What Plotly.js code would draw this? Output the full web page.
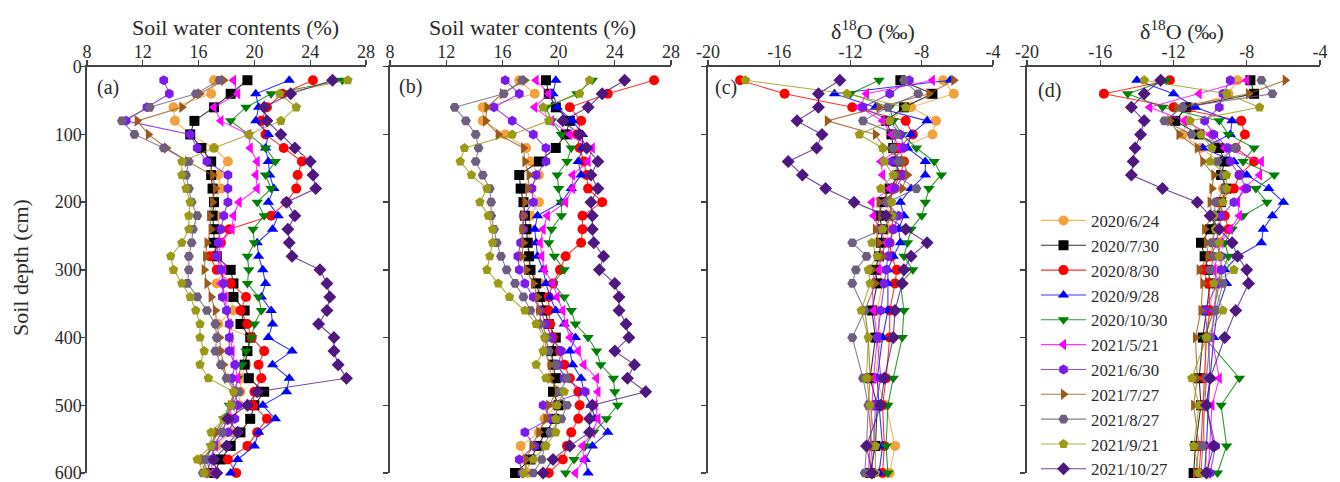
<!DOCTYPE html>
<html>
<head>
<meta charset="utf-8">
<script src="https://cdn.plot.ly/plotly-3.0.1.min.js"></script>
<style>
  html, body { margin: 0; padding: 0; background: #ffffff; }
  #chart { width: 1340px; height: 482px; }
</style>
</head>
<body>
<div id="chart"></div>
<script>
// Sampling dates (one profile per date)
const dates = ['2020/6/24', '2020/7/30', '2020/8/30', '2020/9/28', '2020/10/30',
               '2021/5/21', '2021/6/30', '2021/7/27', '2021/8/27', '2021/9/21', '2021/10/27'];

// Soil depths (cm): water content profiles and isotope profiles
const depthSwc = [20, 40, 60, 80, 100, 120, 140, 160, 180, 200, 220, 240, 260, 280, 300,
                  320, 340, 360, 380, 400, 420, 440, 460, 480, 500, 520, 540, 560, 580, 600];
const depthIso = [20, 40, 60, 80, 100, 120, 140, 160, 180, 200, 220, 240, 260, 280, 300, 320,
                  360, 400, 460, 500, 560, 600];

// (a) soil water content (%)
const a0624 = [17.1,16.9,14.2,14.3,15.4,17.1,18.1,17.4,17.6,17.1,17.3,17.6,17.3,17.3,17.8,17.3,18.3,18.5,17.4,19.8,19.5,19.4,19.0,19.0,18.9,18.5,18.3,17.3,16.1,16.6];
const a0730 = [19.5,18.3,17.1,15.7,15.4,16.2,16.9,16.9,17.0,17.1,17.0,17.1,17.1,17.3,18.3,18.5,18.5,19.3,19.0,19.7,19.5,19.3,19.6,20.7,20.0,19.7,19.0,18.3,17.6,17.1];
const a0830 = [24.2,22.0,20.9,20.5,20.8,22.1,23.4,23.1,23.0,22.3,21.2,18.2,17.6,16.8,17.3,18.3,19.4,19.0,19.5,19.8,20.7,20.3,20.5,20.0,19.9,20.9,20.2,19.5,18.1,18.7];
const a0928 = [22.5,20.1,20.3,20.1,21.0,20.8,21.0,21.1,21.4,21.0,21.7,21.3,20.2,20.3,20.6,20.8,20.5,21.2,21.3,21.0,22.7,21.3,22.5,22.3,20.6,21.5,20.3,20.0,18.8,18.3];
const a1030 = [26.3,21.2,19.4,18.3,19.6,20.8,21.5,20.8,21.2,20.2,20.7,19.9,20.0,19.5,19.6,19.5,20.3,20.5,20.0,19.8,19.4,19.1,18.8,18.6,18.2,17.8,17.2,16.9,16.6,16.8];
const a0521 = [18.5,18.8,17.1,17.6,19.6,19.7,20.2,20.1,20.2,18.9,18.5,18.4,17.6,17.4,17.8,17.6,17.9,18.0,18.2,18.3,18.4,18.6,18.8,18.6,18.4,18.2,17.6,17.2,16.9,17.0];
const a0630 = [13.5,13.9,12.3,10.8,15.4,15.9,16.6,18.1,18.1,18.1,17.8,17.6,17.4,17.3,17.6,17.8,17.7,18.0,18.2,18.2,18.2,18.6,18.4,18.6,18.8,18.6,18.1,17.1,16.9,16.6];
const a0727 = [17.8,16.1,14.8,11.6,12.4,13.7,15.2,17.0,17.2,17.0,16.8,16.9,16.6,16.5,16.4,16.6,16.9,17.2,17.3,17.5,17.6,17.8,18.0,18.6,18.3,18.0,17.3,17.0,16.3,16.7];
const a0827 = [17.5,15.8,12.5,10.5,11.4,13.5,15.3,15.1,15.3,15.5,15.9,15.6,15.5,15.3,15.3,15.2,15.9,16.6,17.2,17.3,17.2,17.6,18.0,18.9,18.4,18.0,17.7,17.0,16.5,16.3];
const a0921 = [26.7,21.8,23.0,21.9,19.6,17.1,14.8,14.8,15.1,15.4,15.3,15.3,14.8,14.0,14.2,14.8,15.4,15.8,16.1,16.1,16.4,16.1,16.7,18.5,18.3,17.8,16.9,16.9,15.9,16.4];
const a1027 = [25.6,22.6,20.7,20.9,21.9,22.9,24.0,24.2,24.4,22.3,22.9,22.4,22.5,22.7,24.7,25.2,25.4,25.2,24.6,25.7,25.7,26.0,26.6,20.2,19.5,18.1,18.8,18.0,17.1,17.3];

// (b) soil water content (%)
const b0624 = [17.2,18.3,14.6,14.6,16.2,17.7,18.0,18.6,18.0,18.6,18.0,17.9,17.9,17.9,17.9,18.7,18.6,19.1,19.2,19.5,19.6,19.5,19.6,19.8,19.8,19.0,18.6,17.3,17.6,17.8];
const b0730 = [19.1,19.3,19.8,20.8,20.5,19.8,18.6,17.2,17.3,17.5,17.6,17.7,17.8,17.9,18.0,18.4,18.7,19.0,19.3,19.8,19.5,19.6,19.8,19.6,20.0,19.7,19.1,18.5,18.0,16.9];
const b0830 = [26.8,23.5,20.8,21.6,21.3,21.5,21.8,22.0,22.1,23.1,21.7,21.7,21.6,20.5,20.1,19.6,19.3,19.3,19.4,19.6,20.1,20.4,20.8,21.4,21.5,21.4,20.9,20.6,20.3,19.3];
const b0928 = [19.8,19.6,19.9,21.0,21.7,21.7,21.4,21.6,20.9,20.2,18.5,18.3,18.4,18.5,18.9,19.1,19.4,19.8,20.4,21.2,20.8,21.0,21.6,21.8,22.3,22.6,23.5,22.4,21.9,22.1];
const b1030 = [22.4,21.3,19.1,19.5,20.2,20.9,20.6,19.9,20.0,20.2,20.2,19.5,19.3,19.7,20.4,19.6,20.4,20.9,21.2,22.1,22.7,23.0,23.9,24.0,24.2,23.4,22.5,21.9,21.1,20.5];
const b0521 = [18.4,19.3,18.3,19.5,20.8,22.4,22.1,21.0,21.0,20.5,19.2,18.9,18.7,18.8,19.0,19.6,19.9,20.3,20.5,20.8,21.4,21.8,22.7,22.8,22.6,22.8,22.4,21.7,21.8,21.2];
const b0630 = [16.2,17.2,15.4,16.7,18.2,19.1,19.1,18.4,18.1,18.2,17.5,17.5,17.3,17.1,17.2,17.6,18.2,18.7,19.1,19.5,20.2,20.0,20.4,21.9,18.9,19.4,17.6,18.3,17.2,17.4];
const b0727 = [17.6,16.0,14.9,14.8,15.7,17.5,17.6,17.9,17.8,17.6,17.5,17.4,17.5,17.4,17.7,18.2,18.5,18.6,18.8,19.2,19.0,19.4,19.4,19.9,19.3,19.1,18.6,18.1,17.7,17.6];
const b0827 = [17.4,16.1,12.6,13.4,14.1,14.3,14.1,14.6,15.1,15.2,15.2,15.4,15.6,15.9,16.3,16.9,17.5,18.0,18.6,19.1,19.3,19.8,20.6,20.1,20.6,20.2,19.4,19.0,18.8,18.2];
const b0921 = [22.2,21.5,18.9,19.3,16.7,13.3,13.0,13.8,14.9,14.4,15.0,15.3,15.3,15.1,14.9,15.7,16.5,17.6,18.4,19.0,18.9,18.4,19.1,20.4,19.9,19.8,19.8,19.1,18.2,17.5];
const b1027 = [24.7,23.1,22.1,20.3,21.5,22.0,22.8,22.3,22.8,22.3,22.4,22.4,22.5,23.2,22.9,24.0,24.3,24.3,24.8,25.0,24.0,25.4,24.9,26.2,22.4,22.2,22.2,20.8,19.6,18.9];

// (c) soil water δ18O (‰)
const c0624 = [-6.8,-6.2,-8.6,-7.2,-7.4,-9.2,-9.6,-9.4,-9.5,-10.0,-9.8,-9.9,-10.0,-10.3,-10.4,-10.2,-10.5,-10.3,-10.6,-10.0,-9.5,-9.8];
const c0730 = [-9.2,-7.4,-9.0,-10.0,-9.7,-9.6,-9.4,-9.3,-9.8,-10.2,-10.4,-10.2,-10.3,-10.4,-10.6,-10.5,-10.8,-10.6,-10.9,-10.5,-10.6,-10.9];
const c0830 = [-18.2,-15.7,-11.9,-8.9,-8.5,-9.3,-9.0,-9.2,-9.6,-9.8,-9.7,-9.6,-9.8,-9.7,-9.4,-9.5,-9.8,-9.8,-10.0,-10.2,-10.1,-10.2];
const c0928 = [-6.4,-12.9,-10.6,-7.7,-8.6,-8.8,-7.8,-7.8,-8.6,-9.2,-9.0,-9.3,-9.2,-9.6,-9.9,-9.9,-9.9,-10.2,-10.5,-10.4,-10.2,-10.4];
const c1030 = [-10.4,-12.0,-9.8,-9.6,-9.1,-8.3,-7.3,-6.9,-7.6,-7.8,-8.0,-8.6,-8.8,-9.0,-8.5,-9.2,-9.0,-9.1,-9.6,-9.9,-10.0,-9.9];
const c0521 = [-7.4,-11.1,-11.5,-10.2,-9.7,-9.2,-10.3,-10.2,-9.8,-10.8,-10.7,-10.4,-10.0,-10.3,-10.4,-10.8,-10.7,-10.5,-10.7,-10.8,-10.9,-11.0];
const c0630 = [-8.7,-9.8,-11.3,-9.8,-9.2,-9.0,-9.7,-9.0,-9.5,-10.0,-9.3,-9.6,-9.8,-9.9,-10.0,-10.1,-10.3,-10.5,-10.3,-10.6,-10.7,-10.8];
const c0727 = [-6.2,-7.6,-10.4,-13.3,-10.6,-10.1,-9.0,-8.8,-9.1,-10.4,-10.3,-10.6,-10.4,-10.2,-10.8,-10.6,-11.2,-11.0,-10.9,-11.0,-10.8,-10.9];
const c0827 = [-9.0,-8.2,-9.9,-11.3,-9.4,-9.6,-9.3,-9.5,-8.3,-9.9,-9.6,-10.2,-11.9,-11.1,-11.7,-11.9,-11.2,-11.9,-11.3,-11.0,-11.1,-11.2];
const c0921 = [-17.9,-12.2,-8.9,-9.8,-11.5,-10.2,-10.1,-9.6,-10.3,-9.7,-9.7,-10.2,-10.8,-10.5,-11.0,-10.9,-11.4,-11.0,-11.1,-10.9,-10.6,-10.6];
const c1027 = [-12.6,-13.8,-13.8,-15.0,-13.6,-13.9,-15.5,-14.7,-13.4,-11.8,-10.0,-8.9,-7.7,-8.6,-9.0,-9.1,-9.5,-9.6,-10.1,-10.3,-11.1,-10.8];

// (d) soil water δ18O (‰)
const d0624 = [-8.5,-9.0,-11.0,-11.3,-11.5,-10.5,-9.5,-9.2,-9.3,-9.4,-9.3,-9.8,-9.9,-10.0,-9.6,-9.8,-10.0,-10.3,-10.2,-10.4,-10.3,-10.1];
const d0730 = [-7.8,-7.6,-11.3,-11.9,-10.6,-9.5,-9.2,-9.4,-9.1,-9.4,-9.6,-10.0,-10.5,-10.3,-10.1,-10.0,-10.2,-10.4,-10.6,-10.5,-10.8,-10.9];
const d0830 = [-12.2,-15.8,-12.0,-8.3,-8.1,-8.6,-7.6,-8.4,-8.7,-9.6,-9.2,-9.0,-9.6,-10.0,-10.4,-10.1,-10.0,-10.2,-10.3,-10.4,-10.5,-10.6];
const d0928 = [-14.0,-12.0,-10.8,-8.8,-8.9,-10.4,-8.7,-8.0,-6.8,-6.0,-6.6,-7.1,-7.2,-8.5,-9.2,-9.1,-9.6,-9.8,-10.0,-10.1,-10.2,-10.3];
const d1030 = [-12.4,-14.5,-12.6,-9.5,-9.0,-7.6,-8.2,-6.5,-7.5,-6.9,-8.2,-8.8,-9.2,-9.0,-9.3,-9.5,-9.8,-10.3,-8.4,-9.4,-9.1,-9.6];
const d0521 = [-8.0,-10.6,-13.3,-11.4,-10.0,-9.2,-7.2,-7.3,-8.2,-8.5,-8.4,-8.9,-9.4,-9.6,-9.8,-9.6,-9.8,-9.9,-9.5,-9.9,-10.0,-10.1];
const d0630 = [-8.9,-9.3,-9.5,-10.3,-9.8,-9.0,-8.9,-8.4,-8.0,-8.7,-9.4,-9.5,-9.7,-9.4,-9.4,-9.6,-10.3,-10.1,-10.0,-10.2,-9.7,-10.0];
const d0727 = [-5.9,-7.9,-11.8,-12.2,-11.7,-10.7,-10.4,-9.8,-9.9,-10.0,-9.9,-10.3,-10.2,-10.1,-10.6,-10.4,-10.5,-10.8,-10.7,-10.9,-10.6,-10.8];
const d0827 = [-7.2,-6.6,-11.5,-12.5,-11.0,-8.6,-9.6,-9.3,-9.2,-9.7,-9.8,-9.7,-9.9,-9.8,-10.0,-9.3,-9.7,-10.0,-10.2,-10.3,-10.4,-10.5];
const d0921 = [-13.6,-9.1,-7.3,-11.1,-10.5,-9.9,-10.0,-9.1,-9.1,-9.3,-9.8,-9.7,-9.5,-9.5,-8.7,-9.8,-9.3,-10.2,-11.0,-10.6,-10.9,-10.6];
const d1027 = [-12.7,-13.6,-14.3,-13.6,-13.8,-14.1,-14.2,-14.3,-12.6,-10.7,-10.0,-9.5,-8.8,-8.5,-8.0,-7.9,-8.6,-9.2,-10.0,-10.2,-9.8,-10.2];

// Axis tick values
const swcTicks = [8, 12, 16, 20, 24, 28];
const isoTicks = [-20, -16, -12, -8, -4];
const depthTicks = [0, 100, 200, 300, 400, 500, 600];

// ---- styling ----
const colors = ['#F2A23C', '#000000', '#FF0000', '#0000FF', '#008000',
                '#FF00FF', '#7A1CF0', '#9A5A1C', '#6E5E80', '#9A9A14', '#4E1880'];
const symbols = ['circle', 'square', 'circle', 'triangle-up', 'triangle-down',
                 'triangle-left', 'hexagon', 'triangle-right', 'hexagon2', 'pentagon', 'diamond'];

function rgba(hex, a) {
  const n = parseInt(hex.slice(1), 16);
  return 'rgba(' + ((n >> 16) & 255) + ',' + ((n >> 8) & 255) + ',' + (n & 255) + ',' + a + ')';
}

const W = 1340, H = 482;
const px = x => x / W;
const py = y => 1 - y / H;
const plotTop = 66.7, plotBottom = 473;
const panelX = [[87, 366], [390, 671], [708, 993], [1027, 1320]];

const panels = [
  { series: [a0624, a0730, a0830, a0928, a1030, a0521, a0630, a0727, a0827, a0921, a1027], depth: depthSwc },
  { series: [b0624, b0730, b0830, b0928, b1030, b0521, b0630, b0727, b0827, b0921, b1027], depth: depthSwc },
  { series: [c0624, c0730, c0830, c0928, c1030, c0521, c0630, c0727, c0827, c0921, c1027], depth: depthIso },
  { series: [d0624, d0730, d0830, d0928, d1030, d0521, d0630, d0727, d0827, d0921, d1027], depth: depthIso }
];

const traces = [];
panels.forEach((p, k) => {
  const suffix = k === 0 ? '' : String(k + 1);
  p.series.forEach((vals, i) => {
    traces.push({
      type: 'scatter',
      mode: 'lines+markers',
      x: vals,
      y: p.depth,
      xaxis: 'x' + suffix,
      yaxis: 'y' + suffix,
      name: dates[i],
      legendgroup: dates[i],
      showlegend: k === 0,
      line: { color: rgba(colors[i], 0.8), width: 1.1 },
      marker: { color: colors[i], symbol: symbols[i], size: 10, line: { width: 0 } },
      cliponaxis: false
    });
  });
});

const serif = 'Liberation Serif, Times New Roman, serif';
const axisColor = '#444444';
const textColor = '#2a2a2a';

function label(text, x, y, size, extra) {
  return Object.assign({
    text: text, x: px(x), y: py(y), xref: 'paper', yref: 'paper',
    xanchor: 'center', yanchor: 'middle', showarrow: false,
    font: { family: serif, size: size, color: textColor }
  }, extra || {});
}

const layout = {
  width: W,
  height: H,
  margin: { l: 0, r: 0, t: 0, b: 0, autoexpand: false },
  paper_bgcolor: '#ffffff',
  plot_bgcolor: '#ffffff',
  font: { family: serif, size: 18, color: textColor },
  showlegend: true,
  legend: {
    x: px(1036), y: py(203), xanchor: 'left', yanchor: 'top',
    bgcolor: 'rgba(0,0,0,0)', borderwidth: 0,
    font: { family: serif, size: 16.8, color: textColor },
    itemwidth: 45, tracegroupgap: 0
  },
  annotations: [
    label('Soil water contents (%)', 236, 27, 22),
    label('Soil water contents (%)', 532, 27, 22),
    label('δ<sup>18</sup>O (‰)', 873, 30, 22),
    label('δ<sup>18</sup>O (‰)', 1182, 30, 22),
    label('Soil depth (cm)', 20, 268, 22, { textangle: -90 }),
    label('(a)', 108, 87, 20),
    label('(b)', 411, 86, 20),
    label('(c)', 726, 87, 20),
    label('(d)', 1049, 90, 20)
  ]
};

panelX.forEach((xr, k) => {
  const suffix = k === 0 ? '' : String(k + 1);
  const isSwc = k < 2;
  layout['xaxis' + suffix] = {
    domain: [px(xr[0]), px(xr[1])],
    anchor: 'y' + suffix,
    side: 'top',
    range: isSwc ? [8, 28] : [-20, -4],
    tickmode: 'array',
    tickvals: isSwc ? swcTicks : isoTicks,
    ticktext: (isSwc ? swcTicks : isoTicks).map(String),
    ticks: 'outside', ticklen: 5, tickwidth: 1.3, tickcolor: axisColor,
    ticklabelstandoff: -5, ticklabeloverflow: 'allow',
    showline: true, linecolor: axisColor, linewidth: 1.6,
    showgrid: false, zeroline: false, automargin: false,
    tickfont: { family: serif, size: 18, color: textColor },
    fixedrange: true
  };
  layout['yaxis' + suffix] = {
    domain: [py(plotBottom), py(plotTop)],
    anchor: 'x' + suffix,
    range: [600, 0],
    tickmode: 'array',
    tickvals: depthTicks,
    ticktext: depthTicks.map(String),
    showticklabels: k === 0,
    ticks: 'outside', ticklen: 5, tickwidth: 1.3, tickcolor: axisColor,
    ticklabelstandoff: -5, ticklabeloverflow: 'allow',
    showline: true, linecolor: axisColor, linewidth: 1.6,
    showgrid: false, zeroline: false, automargin: false,
    tickfont: { family: serif, size: 18, color: textColor },
    fixedrange: true
  };
});

Plotly.newPlot('chart', traces, layout, { staticPlot: true, displayModeBar: false });
</script>
</body>
</html>
